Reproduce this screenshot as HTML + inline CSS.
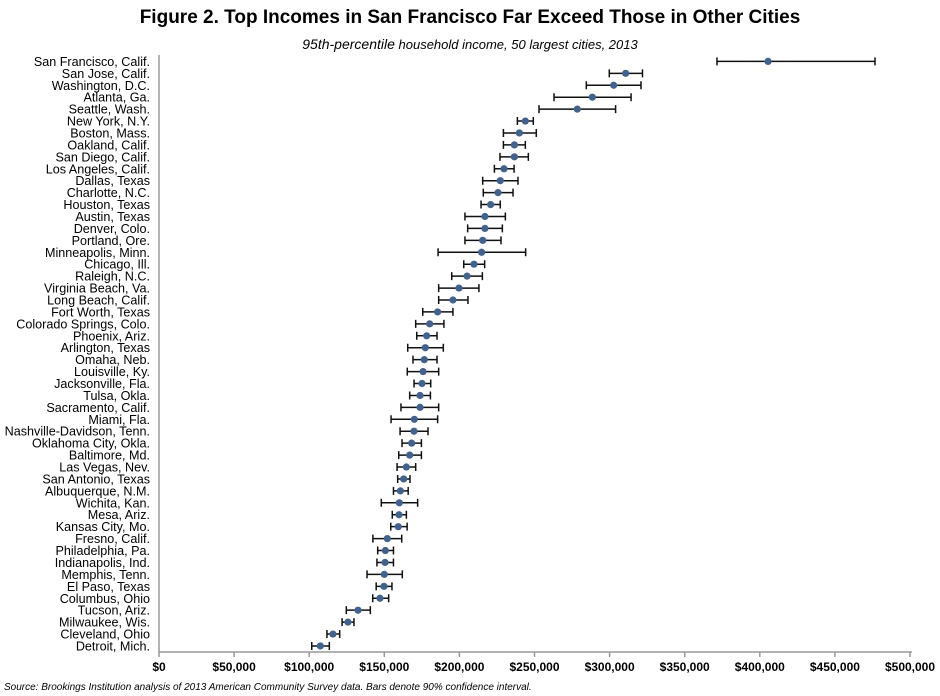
<!DOCTYPE html>
<html><head><meta charset="utf-8"><style>
body{margin:0;background:#fff;font-family:"Liberation Sans",Arial,sans-serif}
svg{display:block}
</style></head><body>
<svg width="940" height="696" xmlns="http://www.w3.org/2000/svg">
<text x="470" y="23" text-anchor="middle" font-size="19" font-weight="bold">Figure 2. Top Incomes in San Francisco Far Exceed Those in Other Cities</text>
<text x="470" y="49" text-anchor="middle" font-style="italic"><tspan font-size="14">95th-percentile</tspan><tspan font-size="13"> household income, 50 largest cities, 2013</tspan></text>
<g id="plot"></g>
<text x="4" y="690" font-size="10" font-style="italic">Source: Brookings Institution analysis of 2013 American Community Survey data. Bars denote 90% confidence interval.</text>
</svg>
<script>
const cities=["San Francisco, Calif.","San Jose, Calif.","Washington, D.C.","Atlanta, Ga.","Seattle, Wash.","New York, N.Y.","Boston, Mass.","Oakland, Calif.","San Diego, Calif.","Los Angeles, Calif.","Dallas, Texas","Charlotte, N.C.","Houston, Texas","Austin, Texas","Denver, Colo.","Portland, Ore.","Minneapolis, Minn.","Chicago, Ill.","Raleigh, N.C.","Virginia Beach, Va.","Long Beach, Calif.","Fort Worth, Texas","Colorado Springs, Colo.","Phoenix, Ariz.","Arlington, Texas","Omaha, Neb.","Louisville, Ky.","Jacksonville, Fla.","Tulsa, Okla.","Sacramento, Calif.","Miami, Fla.","Nashville-Davidson, Tenn.","Oklahoma City, Okla.","Baltimore, Md.","Las Vegas, Nev.","San Antonio, Texas","Albuquerque, N.M.","Wichita, Kan.","Mesa, Ariz.","Kansas City, Mo.","Fresno, Calif.","Philadelphia, Pa.","Indianapolis, Ind.","Memphis, Tenn.","El Paso, Texas","Columbus, Ohio","Tucson, Ariz.","Milwaukee, Wis.","Cleveland, Ohio","Detroit, Mich."];
const values=[405.5,310.7,302.7,288.5,278.5,243.9,239.9,236.6,236.6,229.7,227.2,225.7,220.8,217,217,215.5,214.8,209.7,205.1,199.7,195.7,185.5,180.2,178.2,177.3,176.6,175.8,175.1,173.8,173.8,170,169.8,168.2,166.9,164.7,162.9,160.7,160,159.8,159.3,152,150.7,150.5,150,149.8,147.1,132.5,125.8,115.8,107.4];
const lows=[371.5,299.8,284.5,263,253,238.6,229.3,229.3,227,223.3,215.5,215.9,214.4,203.7,205.5,203.7,185.8,202.9,194.9,186.2,186.2,175.6,170.9,171.6,165.6,169.1,165.3,169.8,166.9,161.1,154.5,160.5,161.8,159.6,158.5,158.9,156.1,148,155.3,154.3,142.4,145.6,145.1,138.5,144.6,142.3,124.7,121.9,111.8,101.7];
const highs=[476.7,321.9,320.9,314.3,304,249.2,251.2,243.9,245.9,236.4,239,235.7,227.2,230.6,228.6,227.7,244.1,216.8,215.3,213,205.7,195.7,189.7,185.1,189.3,185.1,186.2,180.9,180.7,186.2,185.5,179.1,174.7,174.7,170.9,167.1,165.9,172.2,164.7,165.2,161.6,156.1,156.1,162,155.1,152.9,140.7,129.8,120.3,113.4];
const ticks=[0,50,100,150,200,250,300,350,400,450,500];
const tickLabels=["$0","$50,000","$100,000","$150,000","$200,000","$250,000","$300,000","$350,000","$400,000","$450,000","$500,000"];
const NS="http://www.w3.org/2000/svg";
const g=document.getElementById('plot');
const x=v=>159+v*1.502;
const y=i=>61.4+i*11.93;
function mk(t,a){const e=document.createElementNS(NS,t);for(const k in a)e.setAttribute(k,a[k]);g.appendChild(e);return e;}
let ax=mk('line',{x1:159,y1:55,x2:159,y2:652,stroke:'#999','stroke-width':1.5});


let bx=mk('line',{x1:159,y1:652,x2:912,y2:652,stroke:'#999','stroke-width':1.5});


ticks.forEach((t,i)=>{
 const tk=mk('line',{x1:x(t),y1:652,x2:x(t),y2:657,stroke:'#999','stroke-width':1.5});
 
 
 const tl=mk('text',{x:x(t),y:671,'text-anchor':'middle','font-size':12,'font-weight':'bold'});
 tl.textContent=tickLabels[i];
 
 
});
cities.forEach((c,i)=>{
 const yy=y(i);
 const lb=mk('text',{x:150,y:yy+4.5,'text-anchor':'end','font-size':12.6});
 lb.textContent=c;
 
 
 const w=mk('path',{d:`M${x(lows[i])},${yy}H${x(highs[i])}M${x(lows[i])},${yy-4}V${yy+4}M${x(highs[i])},${yy-4}V${yy+4}`,stroke:'#111','stroke-width':1.5,fill:'none'});
 
 
 const d=mk('circle',{cx:x(values[i]),cy:yy,r:3.6,fill:'#41618f'});
 
 
});
</script>
</body></html>
